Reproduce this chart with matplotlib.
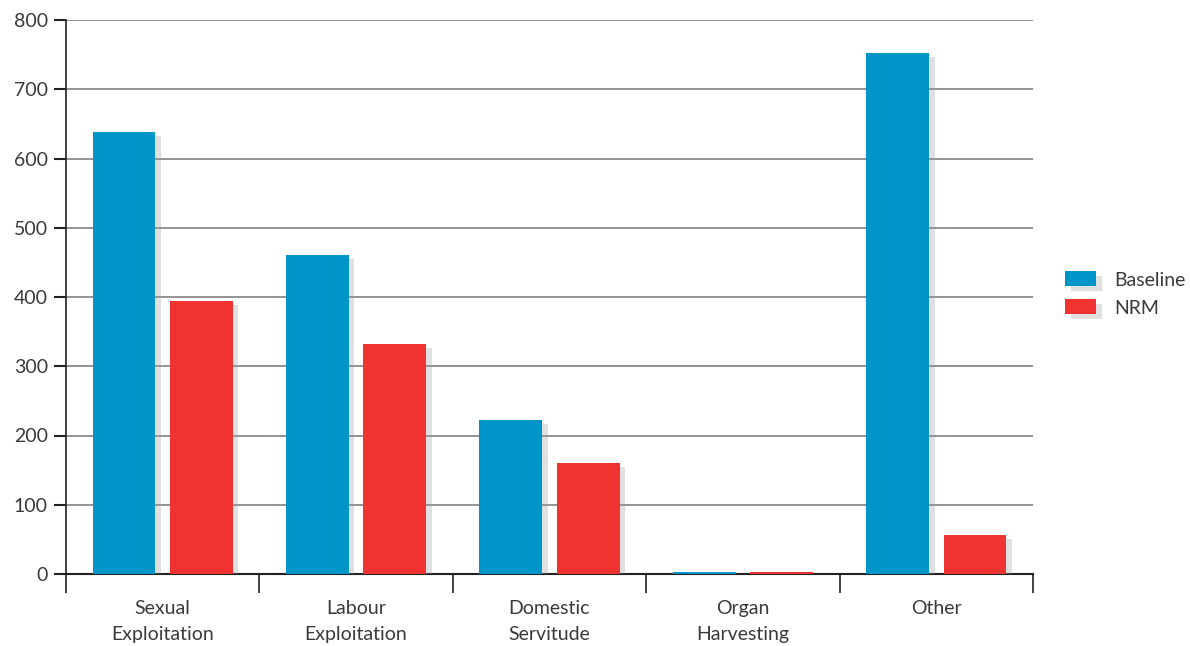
import matplotlib
matplotlib.use("Agg")
import matplotlib.pyplot as plt
import matplotlib.patheffects as pe
import numpy as np

categories = ["Sexual\nExploitation", "Labour\nExploitation", "Domestic\nServitude", "Organ\nHarvesting", "Other"]
baseline = [638, 461, 222, 3, 752]
nrm = [394, 332, 160, 3, 56]
series_names = ["Baseline", "NRM"]
colors = ["#0095c8", "#ee3330"]
yticks = [0, 100, 200, 300, 400, 500, 600, 700, 800]

plt.rcParams['font.family'] = ['Lato', 'DejaVu Sans']

fig = plt.figure(figsize=(11.9, 6.46), dpi=100)
ax = fig.add_axes([66/1190, 72/646, (1033-66)/1190, (574-20)/646])

x = np.arange(len(categories))
w = 0.325
shadow = [pe.SimplePatchShadow(offset=(4, -3), shadow_rgbFace='#999999', alpha=0.3), pe.Normal()]
b1 = ax.bar(x - 0.2, baseline, w, color=colors[0], label=series_names[0], zorder=3)
b2 = ax.bar(x + 0.2, nrm, w, color=colors[1], label=series_names[1], zorder=3)
for r in list(b1) + list(b2):
    r.set_path_effects(shadow)

ax.set_xlim(-0.5, len(categories) - 0.5)
ax.set_ylim(0, 800)
ax.set_yticks(yticks)
ax.set_yticklabels([str(v) for v in yticks])
ax.yaxis.grid(True, color='#8a8a8a', linewidth=1.3, zorder=0)
ax.set_axisbelow(True)

ax.set_xticks(x)
ax.set_xticklabels(categories, linespacing=1.6)
ax.tick_params(axis='x', length=0, pad=19, labelsize=14, labelcolor='#3a3a3a')
ax.set_xticks(np.arange(len(categories) + 1) - 0.5, minor=True)
ax.tick_params(axis='x', which='minor', length=14, width=1.2, color='#222222', direction='out')
ax.tick_params(axis='y', length=9, width=1.5, color='#222222', labelsize=14, labelcolor='#3a3a3a', pad=4)

for s in ['top', 'right']:
    ax.spines[s].set_visible(False)
ax.spines['left'].set_color('#222222')
ax.spines['left'].set_linewidth(1.2)
ax.spines['bottom'].set_color('#222222')
ax.spines['bottom'].set_linewidth(1.5)
ax.spines['bottom'].set_zorder(2)

leg = fig.legend(handles=[b1, b2], labels=series_names, loc='center left',
                 bbox_to_anchor=(1065/1190, 1 - 294/646), frameon=False,
                 fontsize=14, handlelength=1.6, handleheight=0.82, handletextpad=0.95,
                 labelspacing=0.55, borderpad=0, borderaxespad=0)
for t in leg.get_texts():
    t.set_color('#3a3a3a')

fig.savefig("out.png", dpi=100)
